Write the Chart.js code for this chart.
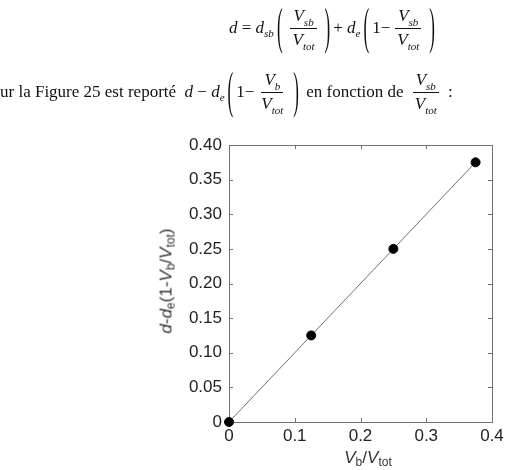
<!DOCTYPE html>
<html>
<head>
<meta charset="utf-8">
<script src="https://cdn.jsdelivr.net/npm/chart.js@4"></script>
<style>
    body { margin: 0; background: #fff; }
    #page { position: relative; width: 523px; height: 470px; overflow: hidden; }
    #c { position: absolute; left: 0; top: 0; }
    .txt { position: absolute; font-family: "Liberation Serif", "Times New Roman", serif; font-size: 17px; color: #111;
           display: flex; align-items: center; white-space: nowrap; }
    .it { font-style: italic; }
    .sub { font-size: 11px; font-style: italic; position: relative; top: 5px; }
    .frac { display: inline-flex; flex-direction: column; align-items: center; margin: 0 4px; }
    .frac .num { padding: 0 3px 2px 3px; border-bottom: 1px solid #111; line-height: 18px; }
    .frac .den { padding: 2px 3px 0 3px; line-height: 18px; }
    .par { display: inline-block; transform: scaleY(3.0); font-size: 17px; margin: 0 3px; }
    .ax { position: absolute; font-family: "Liberation Sans", Arial, sans-serif; font-size: 17px; font-weight: 400;
          color: #333; white-space: nowrap; }
    .ax sub { font-size: 12px; font-style: normal; vertical-align: -3px; }
</style>
</head>
<body>
<div id="page">
    <canvas id="c" width="523" height="470"></canvas>

    <!-- equation line 1 -->
    <div class="txt" style="left:229px; top:3px; height:50px;">
        <span class="it">d</span>&nbsp;=&nbsp;<span class="it">d</span><span class="sub">sb</span>
        <span class="par">(</span>
        <span class="frac"><span class="num"><span class="it">V</span><span class="sub">sb</span></span><span class="den"><span class="it">V</span><span class="sub">tot</span></span></span>
        <span class="par">)</span>+&nbsp;<span class="it">d</span><span class="sub">e</span>
        <span class="par">(</span>1−<span class="frac"><span class="num"><span class="it">V</span><span class="sub">sb</span></span><span class="den"><span class="it">V</span><span class="sub">tot</span></span></span>
        <span class="par">)</span>
    </div>

    <!-- line 2 -->
    <div class="txt" style="left:0px; top:67px; height:50px;">
        ur la Figure 25 est reporté&nbsp;&nbsp;<span class="it">d</span>&nbsp;−&nbsp;<span class="it">d</span><span class="sub">e</span>
        <span class="par">(</span>1−<span class="frac"><span class="num"><span class="it">V</span><span class="sub">b</span></span><span class="den"><span class="it">V</span><span class="sub">tot</span></span></span>
        <span class="par">)</span>&nbsp;en fonction de&nbsp;<span class="frac"><span class="num"><span class="it">V</span><span class="sub">sb</span></span><span class="den"><span class="it">V</span><span class="sub">tot</span></span></span>&nbsp;:
    </div>

    <!-- axis titles -->
    <div class="ax" id="ytitle" style="left:167px; top:281px; transform: translate(-50%, -50%) rotate(-90deg);">
        <i>d</i>-<i>d</i><sub>e</sub>(1-<i>V</i><sub>b</sub>/<i>V</i><sub>tot</sub>)
    </div>
    <div class="ax" id="xtitle" style="left:368px; top:458px; transform: translate(-50%, -50%);">
        <i>V</i><sub>b</sub>/<i>V</i><sub>tot</sub>
    </div>
</div>

<script>
// data
const xValues = [0, 0.125, 0.25, 0.375];
const yValues = [0, 0.125, 0.25, 0.375];
const xTicks = [0, 0.1, 0.2, 0.3, 0.4];
const yTicks = [0, 0.05, 0.10, 0.15, 0.20, 0.25, 0.30, 0.35, 0.40];

const frameColor = '#707070';

// box around the plot + inward ticks on all four sides (matlab look)
const boxPlugin = {
    id: 'boxTicks',
    beforeDatasetsDraw(chart) {
        const { ctx, chartArea: a, scales } = chart;
        const len = 4;
        ctx.save();
        ctx.strokeStyle = frameColor;
        ctx.lineWidth = 1;
        ctx.strokeRect(Math.round(a.left) + 0.5, Math.round(a.top) + 0.5,
            Math.round(a.right - a.left), Math.round(a.bottom - a.top));
        ctx.beginPath();
        xTicks.forEach(v => {
            const px = Math.round(scales.x.getPixelForValue(v)) + 0.5;
            ctx.moveTo(px, a.bottom); ctx.lineTo(px, a.bottom - len);
            ctx.moveTo(px, a.top); ctx.lineTo(px, a.top + len);
        });
        yTicks.forEach(v => {
            const py = Math.round(scales.y.getPixelForValue(v)) + 0.5;
            ctx.moveTo(a.left, py); ctx.lineTo(a.left + len, py);
            ctx.moveTo(a.right, py); ctx.lineTo(a.right - len, py);
        });
        ctx.stroke();
        ctx.restore();
    }
};

const tickFont = { family: 'Liberation Sans, Arial, sans-serif', size: 17 };

new Chart(document.getElementById('c'), {
    type: 'scatter',
    data: {
        datasets: [{
            data: xValues.map((x, i) => ({ x: x, y: yValues[i] })),
            showLine: true,
            borderColor: '#707070',
            borderWidth: 1,
            pointRadius: 4.5,
            pointBackgroundColor: '#000',
            pointBorderColor: '#000',
            clip: false
        }]
    },
    options: {
        responsive: false,
        animation: false,
        layout: { padding: { top: 145, right: 31, left: 0, bottom: 0 } },
        plugins: { legend: { display: false }, tooltip: { enabled: false } },
        scales: {
            x: {
                type: 'linear',
                min: 0,
                max: 0.4,
                afterBuildTicks: s => { s.ticks = xTicks.map(v => ({ value: v })); },
                afterFit: s => { s.height = 48; },
                grid: { display: false, drawTicks: false },
                border: { display: false },
                ticks: {
                    font: tickFont,
                    color: '#222',
                    padding: 4,
                    maxRotation: 0,
                    callback: v => v === 0 ? '0' : v.toFixed(1)
                }
            },
            y: {
                type: 'linear',
                min: 0,
                max: 0.4,
                afterBuildTicks: s => { s.ticks = yTicks.map(v => ({ value: v })); },
                afterFit: s => { s.width = 229; },
                grid: { display: false, drawTicks: false },
                border: { display: false },
                ticks: {
                    font: tickFont,
                    color: '#222',
                    padding: 7,
                    callback: v => v === 0 ? '0' : v.toFixed(2)
                }
            }
        }
    },
    plugins: [boxPlugin]
});
</script>
</body>
</html>
